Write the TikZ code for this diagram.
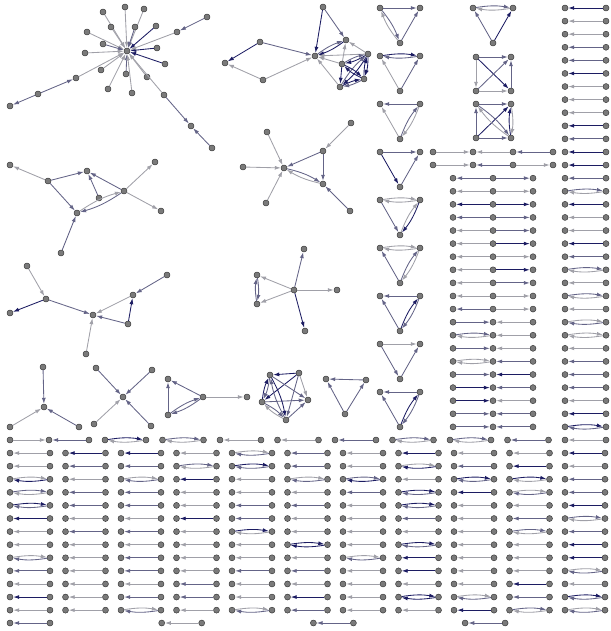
\documentclass[tikz,border=0pt]{standalone}
\usetikzlibrary{arrows.meta}
\definecolor{ea}{RGB}{160,160,168}
\definecolor{eb}{RGB}{100,100,135}
\definecolor{ec}{RGB}{28,28,98}
\tikzset{
  vx/.style={circle, draw=black!80, fill=black!52, inner sep=0pt, minimum size=6pt, line width=0.45pt},
  ed/.style={-{Latex[length=6pt,width=4pt]}, line width=0.85pt},
  e1/.style={ed, draw=ea}, e2/.style={ed, draw=eb}, e3/.style={ed, draw=ec},
  mu/.style={bend left=9},
}
% pairs: name, x, y, width, colour, second colour
\newcommand\pairnodes[4]{\node[vx] (#1a) at (#2,#3) {}; \node[vx] (#1b) at (#2+#4,#3) {};}
\newcommand\pairL[6]{\pairnodes{#1}{#2}{#3}{#4} \draw[e#5] (#1b) -- (#1a);}
\newcommand\pairR[6]{\pairnodes{#1}{#2}{#3}{#4} \draw[e#5] (#1a) -- (#1b);}
\newcommand\pairM[6]{\pairnodes{#1}{#2}{#3}{#4}
  \draw[e#5] (#1a) to[mu] (#1b); \draw[e#6] (#1b) to[mu] (#1a);}
% chains of three: name, y, colour, colour
\newcommand\chainnodes[2]{\node[vx] (#1a) at (453,#2) {}; \node[vx] (#1b) at (493,#2) {}; \node[vx] (#1c) at (533,#2) {};}
\newcommand\chainO[4]{\chainnodes{#1}{#2} \draw[e#3] (#1b) -- (#1a); \draw[e#4] (#1b) -- (#1c);}
\newcommand\chainI[4]{\chainnodes{#1}{#2} \draw[e#3] (#1a) -- (#1b); \draw[e#4] (#1c) -- (#1b);}
\newcommand\chainN[4]{\chainnodes{#1}{#2} \draw[e#3] (#1a) to[mu] (#1b); \draw[e1] (#1b) to[mu] (#1a);
  \draw[e#4] (#1c) -- (#1b);}
% triangles: name, x, y
\newcommand\tri[3]{\node[vx] (#1a) at (#2,#3) {}; \node[vx] (#1b) at (#2+40,#3) {}; \node[vx] (#1c) at (#2+20,#3+35) {};}
\begin{document}
\begin{tikzpicture}[x=1pt, y=-1pt]
\useasboundingbox (0,0) rectangle (610,631);

% star
\node[vx] (A0) at (127,51) {};
\foreach \n/\p/\c in {1/{103,12}/1, 2/{125,7}/1, 3/{144,9}/1, 4/{111,27}/1, 5/{135,27}/2, 6/{156,26}/3,
  7/{87,32}/1, 8/{103,44}/2, 9/{157,48}/3, 10/{85,53}/1, 11/{165,64}/3, 12/{101,70}/1, 13/{126,74}/2,
  14/{147,77}/1, 15/{108,89}/1, 16/{132,93}/1, 17/{177,32}/1, 19/{76,78}/1, 22/{164,95}/1}{
  \node[vx] (A\n) at (\p) {};
  \draw[e\c] (A\n) -- (A0);
}
\node[vx] (A18) at (207,17) {};
\node[vx] (A20) at (38,94) {};
\node[vx] (A21) at (10,106) {};
\node[vx] (A23) at (191,126) {};
\node[vx] (A24) at (212,148) {};
\draw[e2] (A18) -- (A17);
\draw[e2] (A20) -- (A19);
\draw[e2] (A20) -- (A21);
\draw[e2] (A22) -- (A23);
\draw[e2] (A24) -- (A23);

% cluster top middle
\node[vx] (B0) at (315,56) {};
\node[vx] (B1) at (323,7) {};
\node[vx] (B2) at (346,40) {};
\node[vx] (B3) at (368,54) {};
\node[vx] (B4) at (342,64) {};
\node[vx] (B5) at (364,79) {};
\node[vx] (B6) at (340,87) {};
\node[vx] (B7) at (260,42) {};
\node[vx] (B8) at (225,63) {};
\node[vx] (B9) at (263,80) {};
\draw[e3] (B1) -- (B0);
\draw[e2] (B1) -- (B2);
\draw[e3] (B7) -- (B8);
\draw[e1] (B9) -- (B8);
\draw[e2] (B7) -- (B0);
\draw[e1] (B9) -- (B0);
\draw[e2] (B0) to[mu] (B2);
\draw[e3] (B2) to[mu] (B0);
\draw[e1] (B3) -- (B0);
\draw[e1] (B4) -- (B0);
\draw[e1] (B6) -- (B0);
\draw[e1] (B3) -- (B2);
\draw[e1] (B4) -- (B2);
\draw[e3] (B3) to[mu] (B4);
\draw[e2] (B4) to[mu] (B3);
\draw[e3] (B3) to[mu] (B5);
\draw[e3] (B5) to[mu] (B3);
\draw[e3] (B3) to[mu] (B6);
\draw[e2] (B6) to[mu] (B3);
\draw[e3] (B4) to[mu] (B5);
\draw[e3] (B5) to[mu] (B4);
\draw[e3] (B4) -- (B6);
\draw[e3] (B6) to[mu] (B5);
\draw[e2] (B5) to[mu] (B6);

% left middle
\node[vx] (C1) at (10,165) {};
\node[vx] (C2) at (48,181) {};
\node[vx] (C3) at (87,171) {};
\node[vx] (C4) at (124,191) {};
\node[vx] (C5) at (99,198) {};
\node[vx] (C6) at (77,213) {};
\node[vx] (C7) at (155,162) {};
\node[vx] (C8) at (161,211) {};
\node[vx] (C9) at (61,253) {};
\draw[e1] (C2) -- (C1);
\draw[e2] (C2) -- (C3);
\draw[e2] (C2) -- (C6);
\draw[e2] (C4) -- (C3);
\draw[e2] (C5) -- (C3);
\draw[e2] (C4) to[mu] (C6);
\draw[e1] (C6) to[mu] (C4);
\draw[e1] (C4) -- (C7);
\draw[e1] (C4) -- (C8);
\draw[e2] (C9) -- (C6);

% centre
\node[vx] (D0) at (284,168) {};
\node[vx] (D1) at (267,132) {};
\node[vx] (D2) at (243,167) {};
\node[vx] (D3) at (266,203) {};
\node[vx] (D4) at (323,151) {};
\node[vx] (D5) at (351,123) {};
\node[vx] (D6) at (323,184) {};
\node[vx] (D7) at (350,211) {};
\draw[e1] (D1) -- (D0);
\draw[e1] (D2) -- (D0);
\draw[e1] (D3) -- (D0);
\draw[e2] (D4) -- (D0);
\draw[e1] (D5) -- (D4);
\draw[e2] (D4) -- (D6);
\draw[e2] (D0) to[mu] (D6);
\draw[e1] (D6) to[mu] (D0);
\draw[e2] (D7) -- (D6);

% left lower
\node[vx] (E1) at (27,266) {};
\node[vx] (E2) at (46,299) {};
\node[vx] (E3) at (10,313) {};
\node[vx] (E4) at (93,315) {};
\node[vx] (E5) at (133,295) {};
\node[vx] (E6) at (167,275) {};
\node[vx] (E7) at (128,324) {};
\node[vx] (E8) at (86,354) {};
\draw[e1] (E1) -- (E2);
\draw[e3] (E2) -- (E3);
\draw[e2] (E2) -- (E4);
\draw[e1] (E5) -- (E4);
\draw[e2] (E6) -- (E5);
\draw[e2] (E7) -- (E4);
\draw[e3] (E7) -- (E5);
\draw[e1] (E8) -- (E4);

\node[vx] (F0) at (294,290) {};
\node[vx] (F1) at (257,275) {};
\node[vx] (F2) at (257,304) {};
\node[vx] (F3) at (337,290) {};
\node[vx] (F4) at (305,331) {};
\node[vx] (F5) at (304,249) {};
\draw[e1] (F0) -- (F1);
\draw[e1] (F0) -- (F2);
\draw[e2] (F1) to[mu] (F2);
\draw[e2] (F2) to[mu] (F1);
\draw[e1] (F0) -- (F3);
\draw[e3] (F0) -- (F4);
\draw[e2] (F0) -- (F5);

% bottom left small ones
\node[vx] (G0) at (44,407) {};
\node[vx] (G1) at (43,367) {};
\node[vx] (G2) at (10,427) {};
\node[vx] (G3) at (79,427) {};
\draw[e2] (G1) -- (G0);
\draw[e1] (G2) -- (G0);
\draw[e2] (G3) -- (G0);

\node[vx] (H0) at (123,397) {};
\node[vx] (H1) at (96,368) {};
\node[vx] (H2) at (152,370) {};
\node[vx] (H3) at (94,424) {};
\node[vx] (H4) at (151,426) {};
\draw[e2] (H1) -- (H0);
\draw[e2] (H2) -- (H0);
\draw[e1] (H3) -- (H0);
\draw[e2] (H4) -- (H0);

\node[vx] (I1) at (168,379) {};
\node[vx] (I2) at (168,415) {};
\node[vx] (I3) at (203,397) {};
\node[vx] (I4) at (247,397) {};
\draw[e2] (I3) -- (I1);
\draw[e2] (I2) -- (I1);
\draw[e2] (I2) to[mu] (I3);
\draw[e2] (I3) to[mu] (I2);
\draw[e1] (I3) -- (I4);

\node[vx] (J1) at (270,375) {};
\node[vx] (J2) at (299,373) {};
\node[vx] (J3) at (308,400) {};
\node[vx] (J4) at (286,420) {};
\node[vx] (J5) at (262,402) {};
\draw[e3] (J2) -- (J1);
\draw[e3] (J2) -- (J5);
\draw[e2] (J1) -- (J3);
\draw[e2] (J5) -- (J3);
\draw[e2] (J2) -- (J4);
\draw[e1] (J2) -- (J3);
\draw[e2] (J4) -- (J3);
\draw[e3] (J1) to[mu] (J4);
\draw[e2] (J4) to[mu] (J1);
\draw[e3] (J5) to[mu] (J1);
\draw[e2] (J1) to[mu] (J5);
\draw[e2] (J5) to[mu] (J4);
\draw[e1] (J4) to[mu] (J5);

\node[vx] (K1) at (326,379) {};
\node[vx] (K2) at (366,380) {};
\node[vx] (K3) at (345,414) {};
\draw[e2] (K2) -- (K1);
\draw[e2] (K3) -- (K1);
\draw[e2] (K3) -- (K2);

% column of triangles
\tri{T1}{380}{8}
\draw[e2] (T1a) -- (T1b);
\draw[e2] (T1a) to[mu] (T1c);
\draw[e1] (T1c) to[mu] (T1a);
\draw[e2] (T1c) -- (T1b);
\tri{T2}{380}{56}
\draw[e3] (T2a) to[mu] (T2b);
\draw[e2] (T2b) to[mu] (T2a);
\draw[e1] (T2c) -- (T2a);
\draw[e2] (T2c) -- (T2b);
\tri{T3}{380}{104}
\draw[e2] (T3b) -- (T3a);
\draw[e1] (T3c) -- (T3a);
\draw[e2] (T3c) to[mu] (T3b);
\draw[e1] (T3b) to[mu] (T3c);
\tri{T4}{380}{152}
\draw[e2] (T4a) -- (T4b);
\draw[e3] (T4a) -- (T4c);
\draw[e2] (T4c) -- (T4b);
\tri{T5}{380}{200}
\draw[e1] (T5a) to[mu] (T5b);
\draw[e1] (T5b) to[mu] (T5a);
\draw[e2] (T5a) -- (T5c);
\draw[e3] (T5b) to[mu] (T5c);
\draw[e1] (T5c) to[mu] (T5b);
\tri{T6}{380}{248}
\draw[e1] (T6a) to[mu] (T6b);
\draw[e1] (T6b) to[mu] (T6a);
\draw[e2] (T6c) -- (T6a);
\draw[e2] (T6c) to[mu] (T6b);
\draw[e1] (T6b) to[mu] (T6c);
\tri{T7}{380}{296}
\draw[e2] (T7b) -- (T7a);
\draw[e2] (T7c) -- (T7a);
\draw[e3] (T7c) to[mu] (T7b);
\draw[e2] (T7b) to[mu] (T7c);
\tri{T8}{380}{344}
\draw[e1] (T8a) -- (T8b);
\draw[e2] (T8a) -- (T8c);
\draw[e2] (T8c) -- (T8b);
\tri{T9}{380}{392}
\draw[e2] (T9b) -- (T9a);
\draw[e2] (T9c) -- (T9a);
\draw[e3] (T9c) to[mu] (T9b);
\draw[e2] (T9b) to[mu] (T9c);

% third column
\tri{U1}{473}{8}
\draw[e2] (U1a) to[mu] (U1b);
\draw[e1] (U1b) to[mu] (U1a);
\draw[e2] (U1c) -- (U1a);
\draw[e3] (U1c) -- (U1b);
\node[vx] (Q1a) at (476,57) {};
\node[vx] (Q1b) at (511,57) {};
\node[vx] (Q1c) at (476,91) {};
\node[vx] (Q1d) at (511,91) {};
\draw[e2] (Q1a) -- (Q1b);
\draw[e1] (Q1a) -- (Q1c);
\draw[e1] (Q1c) -- (Q1d);
\draw[e2] (Q1d) -- (Q1b);
\draw[e3] (Q1a) -- (Q1d);
\draw[e2] (Q1c) -- (Q1b);
\node[vx] (Q2a) at (476,104) {};
\node[vx] (Q2b) at (511,104) {};
\node[vx] (Q2c) at (476,138) {};
\node[vx] (Q2d) at (511,138) {};
\draw[e2] (Q2a) -- (Q2b);
\draw[e2] (Q2c) -- (Q2a);
\draw[e2] (Q2c) -- (Q2d);
\draw[e3] (Q2d) to[mu] (Q2b);
\draw[e1] (Q2b) to[mu] (Q2d);
\draw[e3] (Q2c) -- (Q2b);
\draw[e2] (Q2a) to[mu] (Q2d);
\draw[e1] (Q2d) to[mu] (Q2a);

% chains of four
\foreach \n/\y in {1/152, 2/165}
  \foreach \i/\x in {a/433, b/473, c/513, d/553}
    \node[vx] (W\n\i) at (\x,\y) {};
\draw[e1] (W1a) -- (W1b);
\draw[e1] (W1c) -- (W1b);
\draw[e2] (W1d) -- (W1c);
\draw[e1] (W2a) -- (W2b);
\draw[e2] (W2c) -- (W2b);
\draw[e1] (W2c) -- (W2d);

% chains of three
\foreach \t/\c/\d [count=\k from 13] in {O/2/2, O/1/1, O/3/3, O/2/2, O/1/2, O/1/3, O/1/1, O/1/3,
  O/1/2, O/1/1, O/2/1, I/2/1, N/2/1, I/2/1, N/1/2, I/2/3, I/3/2, I/3/1, I/2/2, I/2/2}{
  \pgfmathsetmacro\yy{8+13.09*\k}
  \csname chain\t\endcsname{m\k}{\yy}{\c}{\d}
}

% right column of pairs
\foreach \t/\c/\d [count=\k from 0] in {L/3/0, L/1/0, L/1/0, L/2/0, L/2/0, L/3/0, L/1/0, L/1/0, L/1/0,
  L/3/0, L/2/0, L/3/0, L/3/0, L/2/0, M/2/1, L/3/0, L/1/0, L/1/0, L/3/0, L/2/0, M/2/1, L/1/0, M/2/1,
  L/1/0, M/1/2, M/1/1, L/1/0, L/2/0, L/2/0, L/2/0, L/1/0, L/3/0, M/3/2}{
  \pgfmathsetmacro\yy{8+13.09*\k}
  \csname pair\t\endcsname{s\k}{565}{\yy}{41}{\c}{\d}
}

% bottom block, first row
\node[vx] (h1) at (10,440) {};
\node[vx] (h2) at (49,440) {};
\node[vx] (h3) at (89,440) {};
\draw[e1] (h1) -- (h2);
\draw[e2] (h3) -- (h2);
\foreach \t/\c/\d [count=\j from 0] in {M/3/1, M/2/1, L/1/0, L/1/0, L/2/0, M/2/1, M/2/1, L/2/0, L/1/0}{
  \pgfmathsetmacro\xx{105+57.5*\j}
  \csname pair\t\endcsname{g1-\j}{\xx}{440}{41}{\c}{\d}
}

% bottom block, grid
\foreach \row [count=\r from 2] in {
  {L/1/0, L/3/0, L/3/0, L/1/0, M/1/2, L/2/0, L/1/0, L/3/0, L/1/0, L/1/0, L/3/0},
  {L/1/0, L/2/0, L/2/0, M/2/1, M/3/2, L/2/0, L/1/0, M/1/3, L/2/0, L/3/0, L/1/0},
  {M/1/3, L/1/0, M/1/2, L/3/0, L/1/0, M/1/2, M/2/3, L/1/0, M/3/2, M/3/1, L/2/0},
  {M/2/1, L/2/0, L/2/0, L/1/0, L/1/0, L/1/0, L/2/0, M/3/2, L/3/0, M/1/2, L/2/0},
  {M/3/2, L/2/0, L/2/0, L/1/0, L/2/0, L/2/0, L/1/0, M/3/2, L/1/0, L/1/0, L/3/0},
  {L/3/0, L/1/0, L/1/0, L/3/0, L/2/0, L/1/0, L/1/0, L/2/0, L/1/0, L/2/0, M/2/1},
  {L/1/0, L/2/0, L/2/0, L/1/0, M/3/1, L/1/0, L/1/0, L/1/0, L/1/0, M/2/1, L/2/0},
  {L/1/0, L/1/0, L/1/0, L/1/0, L/1/0, M/3/3, L/1/0, M/3/2, L/1/0, L/1/0, L/3/0},
  {M/1/2, L/1/0, L/2/0, L/1/0, L/1/0, L/1/0, M/1/2, L/3/0, L/1/0, L/1/0, L/3/0},
  {L/2/0, L/1/0, L/2/0, L/1/0, L/2/0, L/2/0, L/1/0, L/3/0, L/1/0, L/1/0, M/1/2},
  {L/1/0, L/1/0, L/1/0, L/2/0, L/1/0, L/1/0, L/1/0, L/1/0, L/1/0, L/3/0, L/1/0},
  {L/3/0, L/1/0, L/2/0, L/2/0, L/1/0, L/3/0, L/1/0, M/3/3, M/1/2, L/2/0, M/3/2},
  {L/1/0, L/1/0, M/1/2, L/1/0, M/1/2, L/2/0, L/1/0, L/1/0, L/3/0, M/2/1, M/1/2}}{
  \pgfmathsetmacro\yy{8+13.09*(32+\r)}
  \foreach \t/\c/\d [count=\j from 0] in \row {
    \pgfmathsetmacro\xx{10+55.5*\j}
    \csname pair\t\endcsname{g\r-\j}{\xx}{\yy}{40}{\c}{\d}
  }
}

% bottom block, last row
\foreach \c [count=\j from 0] in {2, 1, 2, 2}{
  \pgfmathsetmacro\xx{10+151.7*\j}
  \pairL{g15-\j}{\xx}{623}{40}{\c}{0}
}
\end{tikzpicture}
\end{document}
